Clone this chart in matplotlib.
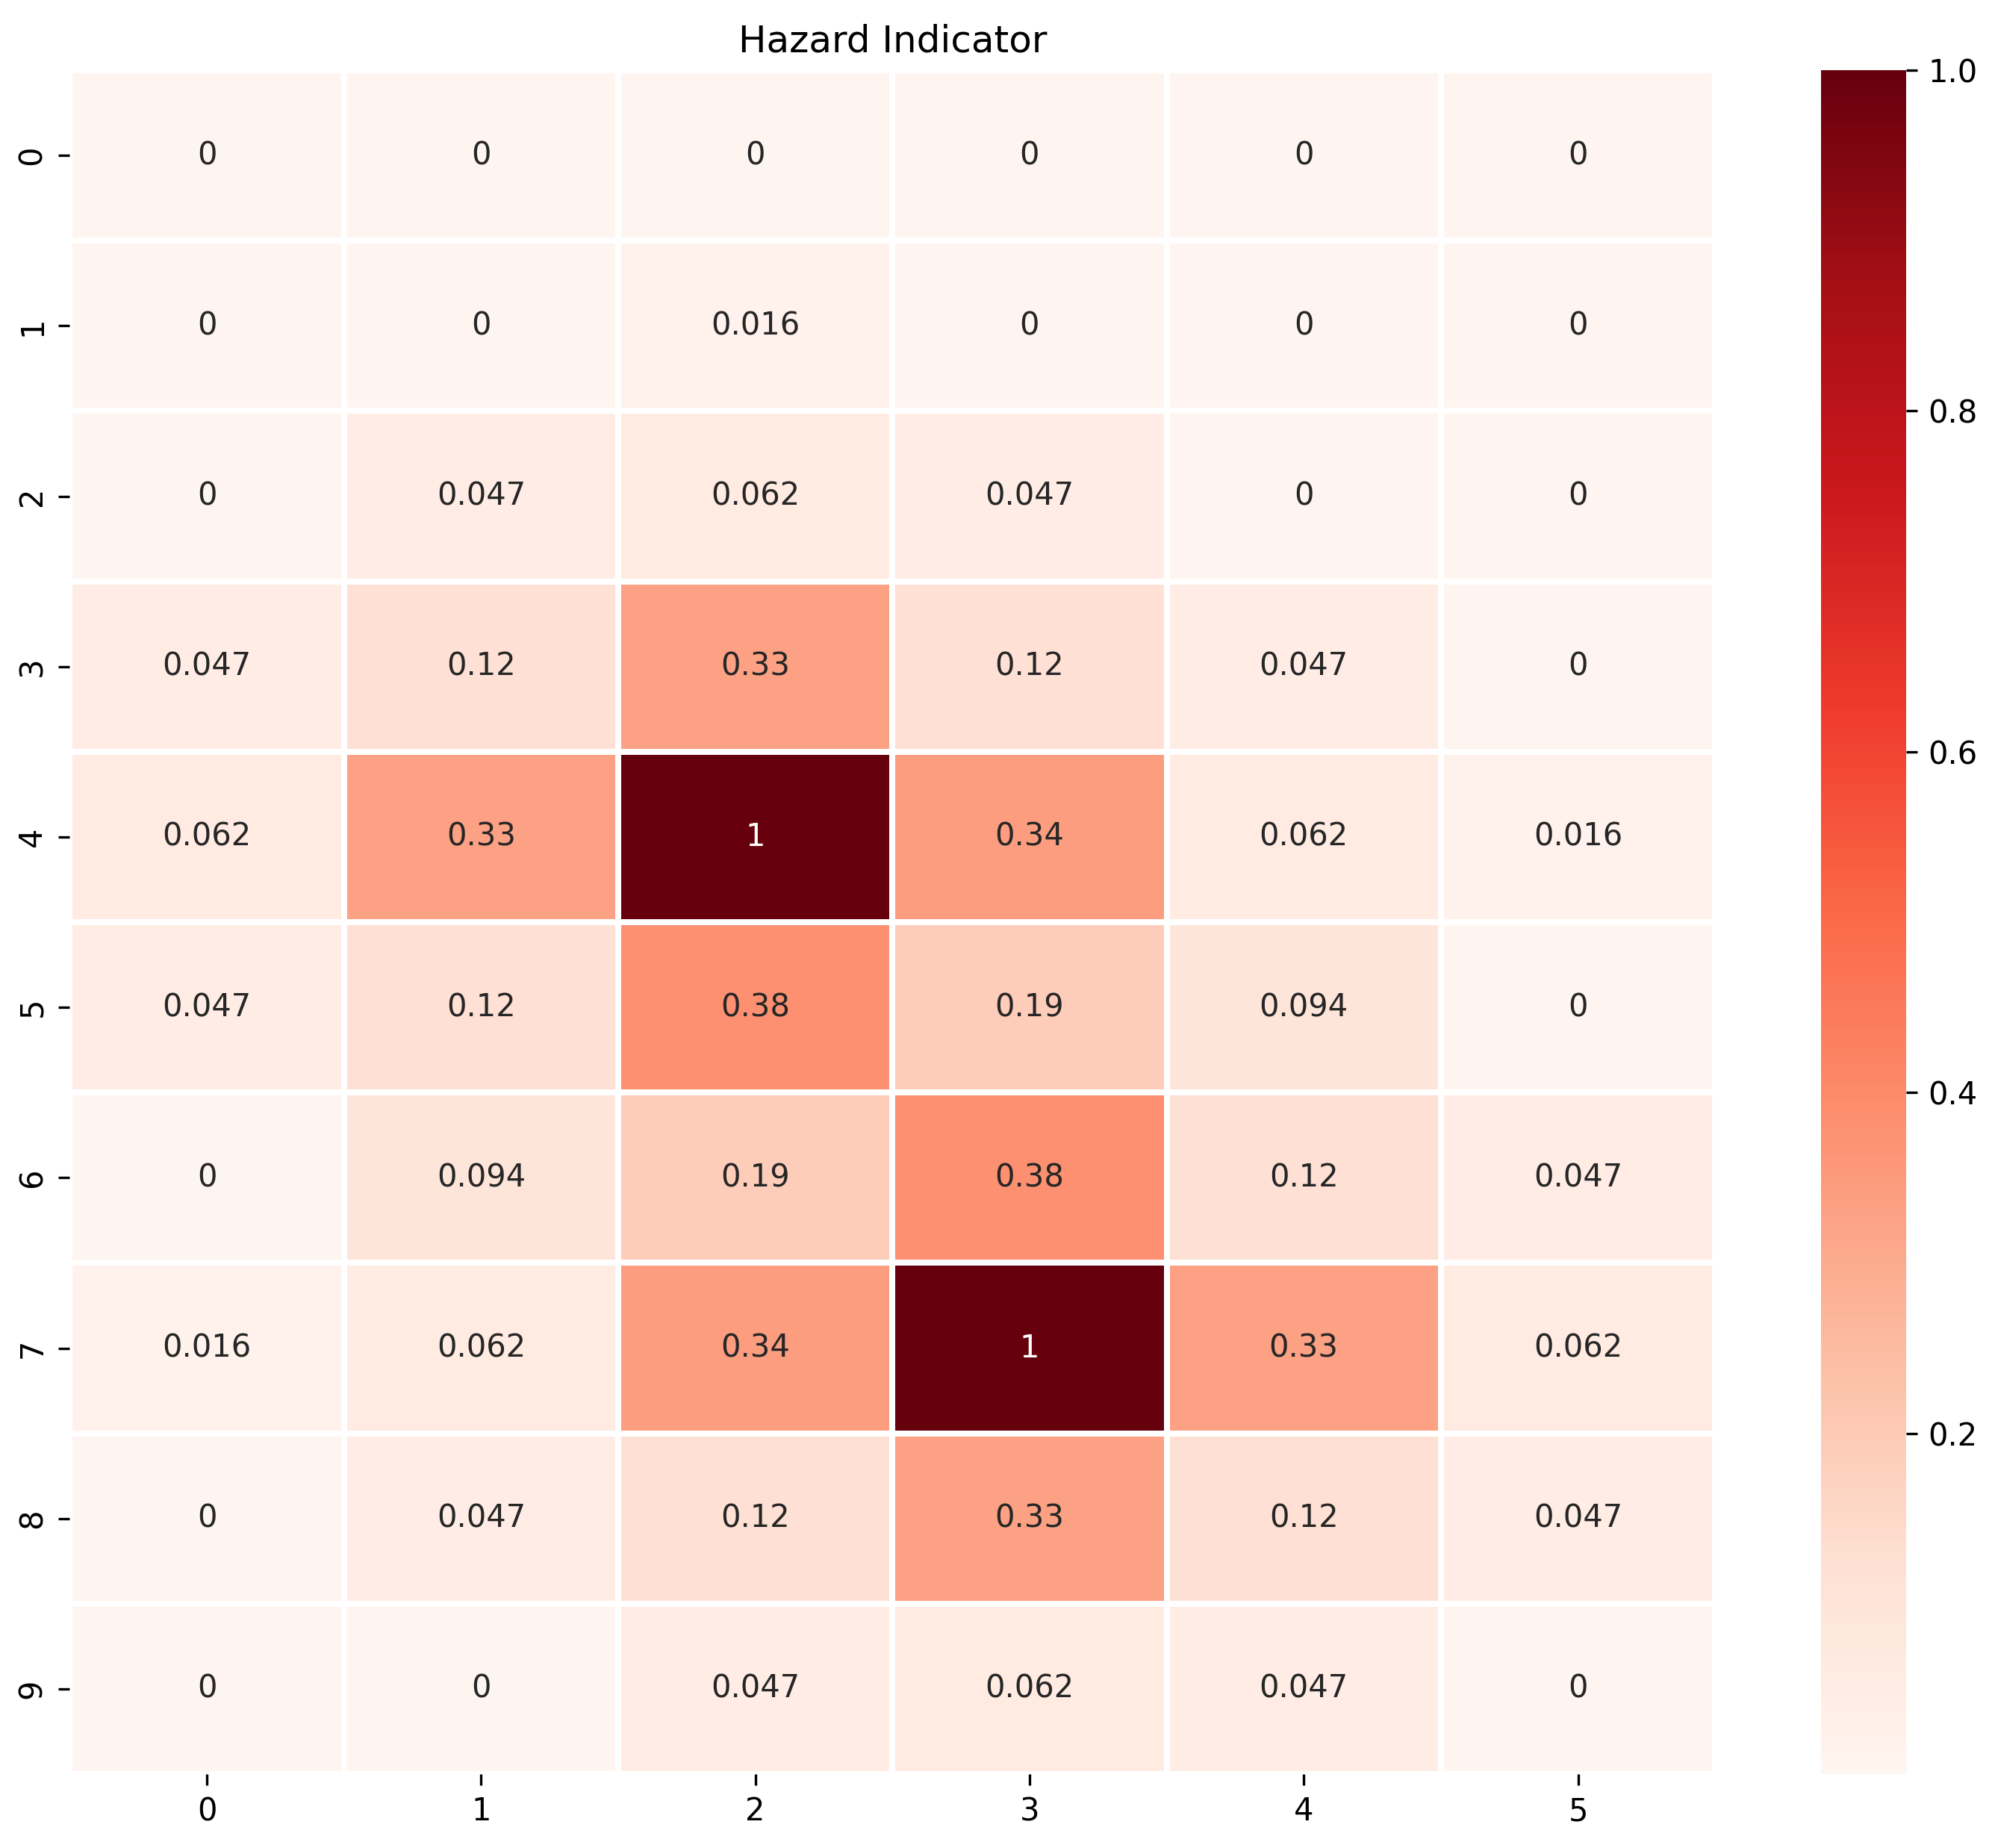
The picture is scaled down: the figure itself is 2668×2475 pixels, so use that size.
import matplotlib
matplotlib.use('Agg')
import matplotlib.pyplot as plt
import numpy as np
import seaborn as sns

# hazard values per grid cell (rows 0-9, cols 0-5)
row_labels = [0, 1, 2, 3, 4, 5, 6, 7, 8, 9]
col_labels = [0, 1, 2, 3, 4, 5]
hazard = np.array([
    [0,     0,     0,     0,     0,     0],
    [0,     0,     0.016, 0,     0,     0],
    [0,     0.047, 0.062, 0.047, 0,     0],
    [0.047, 0.12,  0.33,  0.12,  0.047, 0],
    [0.062, 0.33,  1,     0.34,  0.062, 0.016],
    [0.047, 0.12,  0.38,  0.19,  0.094, 0],
    [0,     0.094, 0.19,  0.38,  0.12,  0.047],
    [0.016, 0.062, 0.34,  1,     0.33,  0.062],
    [0,     0.047, 0.12,  0.33,  0.12,  0.047],
    [0,     0,     0.047, 0.062, 0.047, 0],
])
cbar_ticks = [0.2, 0.4, 0.6, 0.8, 1.0]

fig = plt.figure(figsize=(2668/300, 2475/300), dpi=300)
ax = fig.add_axes([0.035, 0.040, 0.826, 0.922])
cax = fig.add_axes([0.914, 0.040, 0.043, 0.922])

sns.heatmap(hazard, ax=ax, cbar_ax=cax, cmap='Reds', annot=True,
            linewidths=1.5, linecolor='white', vmin=0, vmax=1,
            xticklabels=col_labels, yticklabels=row_labels,
            cbar_kws={'ticks': cbar_ticks})
ax.set_title('Hazard Indicator')
cax.tick_params(labelsize=10)

fig.savefig('out.png', dpi=300)
